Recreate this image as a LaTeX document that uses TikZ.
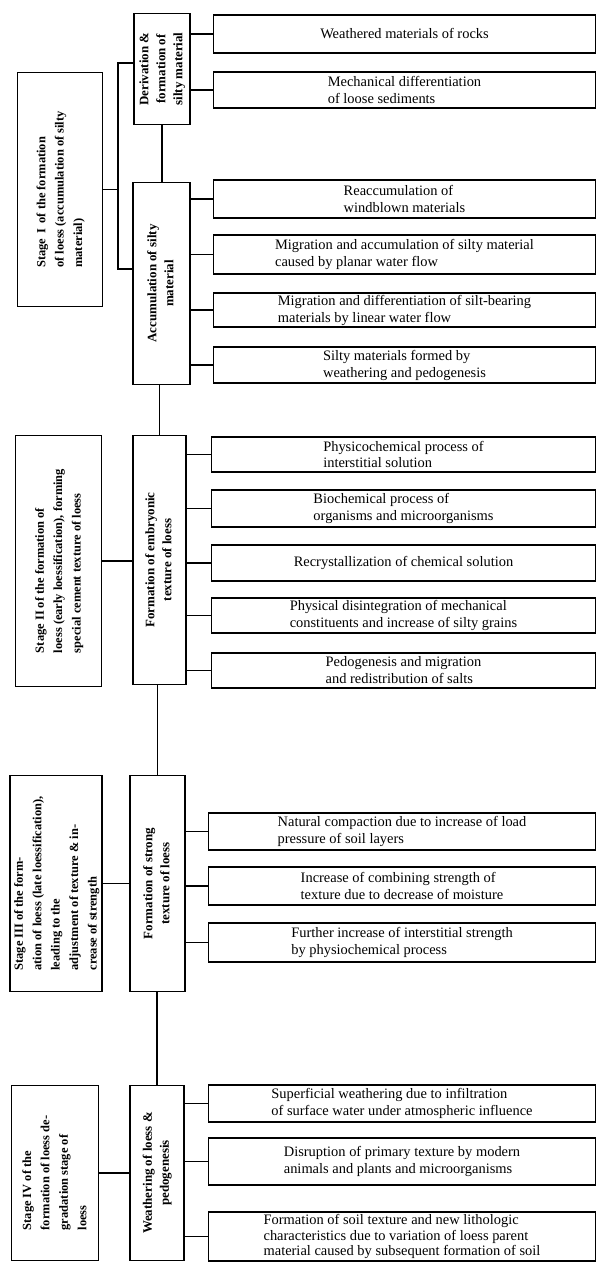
\documentclass[tikz,border=0pt]{standalone}
\usepackage{fontspec}
\setmainfont{Liberation Serif}
\usetikzlibrary{calc}
\newcommand\uptext[2][l]{\rotatebox{90}{\begin{tabular}{@{}#1@{}}#2\end{tabular}}}

\begin{document}
\begin{tikzpicture}[x=1bp,y=-1bp]
\tikzstyle{stage}=[draw,line width=1.3bp,inner sep=0pt,font=\bfseries\fontsize{12.5}{18.5}\selectfont]
\tikzstyle{phase}=[draw,line width=1.3bp,inner sep=0pt,font=\bfseries\fontsize{13}{17}\selectfont]
\tikzstyle{item}=[draw,line width=1.3bp,inner sep=0pt,align=left,font=\fontsize{14.5}{17}\selectfont]
\tikzstyle{link}=[line width=1.6bp]
\useasboundingbox (0,0) rectangle (598,1262);

\node [stage,minimum width=86,minimum height=235] (s1) at (60,189.5)
  {\uptext{Stage \,I\, of the formation\\of loess (accumulation of silty\\material)}};
\node [stage,minimum width=87,minimum height=252] (s2) at (58.5,561)
  {\uptext{Stage II of the formation of\\loess (early loessification), forming\\special cement texture of loess}};
\node [stage,minimum width=88,minimum height=217] (s3) at (56,883.5)
  {\uptext{Stage III of the form-\\ation of loess (late loessification),\\leading to the\\adjustment of texture \& in-\\crease of strength}};
\node [stage,minimum width=88,minimum height=176] (s4) at (55,1173)
  {\uptext{Stage IV of the\\formation of loess de-\\gradation stage of\\loess}};

\node [phase,minimum width=56,minimum height=112] (der) at (162,69)
  {\uptext[c]{Derivation \&\\formation of\\silty material}};
\node [phase,minimum width=57,minimum height=203] (acc) at (161.5,283.5)
  {\uptext[c]{Accumulation of silty\\material}};
\node [phase,minimum width=53,minimum height=250] (emb) at (159.5,560)
  {\uptext[c]{Formation of embryonic\\texture of loess}};
\node [phase,minimum width=55,minimum height=217] (str) at (157.5,883.5)
  {\uptext[c]{Formation of strong\\texture of loess}};
\node [phase,minimum width=54,minimum height=176] (wea) at (157,1173)
  {\uptext[c]{Weathering of loess \&\\pedogenesis}};

\node [item,minimum width=383,minimum height=38] (r1) at (404.5,34) {Weathered materials of rocks};
\node [item,minimum width=383,minimum height=36] (r2) at (404.5,90) {Mechanical differentiation\\of loose sediments};
\node [item,minimum width=383,minimum height=38] (r3) at (404.5,199) {Reaccumulation of\\windblown materials};
\node [item,minimum width=383,minimum height=39] (r4) at (404.5,254.5) {Migration and accumulation of silty material\\caused by planar water flow};
\node [item,minimum width=383,minimum height=34] (r5) at (404.5,310) {Migration and differentiation of silt-bearing\\materials by linear water flow};
\node [item,minimum width=383,minimum height=36] (r6) at (404.5,365) {Silty materials formed by\\weathering and pedogenesis};

\node [item,minimum width=385,minimum height=35] (e1) at (403.5,454.5) {Physicochemical process of\\interstitial solution};
\node [item,minimum width=385,minimum height=37] (e2) at (403.5,508.5) {Biochemical process of\\organisms and microorganisms};
\node [item,minimum width=385,minimum height=36] (e3) at (403.5,563) {Recrystallization of chemical solution};
\node [item,minimum width=385,minimum height=35] (e4) at (403.5,615.5) {Physical disintegration of mechanical\\constituents and increase of silty grains};
\node [item,minimum width=385,minimum height=35] (e5) at (403.5,670.5) {Pedogenesis and migration\\and redistribution of salts};

\node [item,minimum width=388,minimum height=37] (t1) at (402,831.5) {Natural compaction due to increase of load\\pressure of soil layers};
\node [item,minimum width=388,minimum height=38] (t2) at (402,886) {Increase of combining strength of\\texture due to decrease of moisture};
\node [item,minimum width=388,minimum height=39] (t3) at (402,942.5) {Further increase of interstitial strength\\by physiochemical process};

\node [item,minimum width=388,minimum height=37] (w1) at (402,1103.5) {Superficial weathering due to infiltration\\of surface water under atmospheric influence};
\node [item,minimum width=388,minimum height=47] (w2) at (402,1161.5) {Disruption of primary texture by modern\\animals and plants and microorganisms};
\node [item,minimum width=388,minimum height=49,font=\fontsize{14.5}{15.5}\selectfont] (w3) at (402,1236.5) {Formation of soil texture and new lithologic\\characteristics due to variation of loess parent\\material caused by subsequent formation of soil};

\coordinate (ja) at (118,63);
\coordinate (jb) at (118,269);
\draw [link] (der.west |- ja) -- (ja) -- (jb) -- (acc.west |- jb);
\draw [link] (s1.east) -- (s1.east -| ja);
\draw [link] (s2.east) -- (s2.east -| emb.west);
\draw [link] (s3.east) -- (s3.east -| str.west);
\draw [link] (s4.east) -- (s4.east -| wea.west);

\draw [link] (der.south) -- (der.south |- acc.north);
\draw [link] (emb.north) -- (emb.north |- acc.south);
\draw [link] (str.north) -- (str.north |- emb.south);
\draw [link] (wea.north) -- (wea.north |- str.south);

\draw [link] (r1.west) -- (r1.west -| der.east);
\draw [link] (r2.west) -- (r2.west -| der.east);
\draw [link] (r3.west) -- (r3.west -| acc.east);
\draw [link] (r4.west) -- (r4.west -| acc.east);
\draw [link] (r5.west) -- (r5.west -| acc.east);
\draw [link] (r6.west) -- (r6.west -| acc.east);
\draw [link] (e1.west) -- (e1.west -| emb.east);
\draw [link] (e2.west) -- (e2.west -| emb.east);
\draw [link] (e3.west) -- (e3.west -| emb.east);
\draw [link] (e4.west) -- (e4.west -| emb.east);
\draw [link] (e5.west) -- (e5.west -| emb.east);
\draw [link] (t1.west) -- (t1.west -| str.east);
\draw [link] (t2.west) -- (t2.west -| str.east);
\draw [link] (t3.west) -- (t3.west -| str.east);
\draw [link] (w1.west) -- (w1.west -| wea.east);
\draw [link] (w2.west) -- (w2.west -| wea.east);
\draw [link] (w3.west) -- (w3.west -| wea.east);
\end{tikzpicture}
\end{document}
